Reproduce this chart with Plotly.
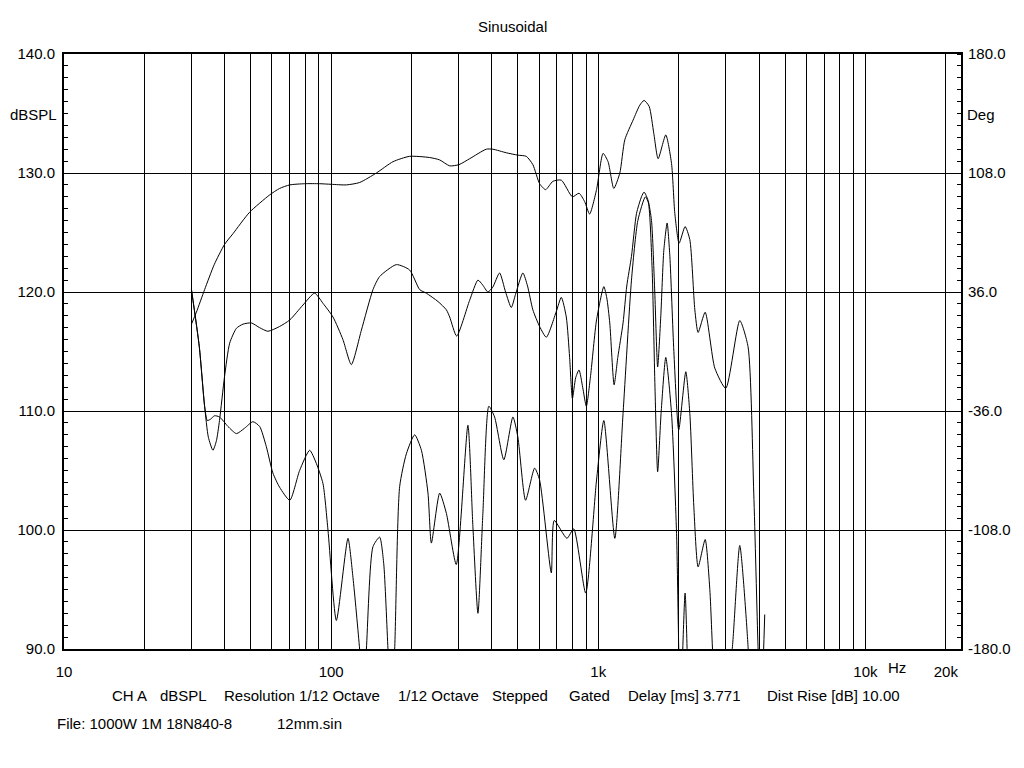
import plotly.graph_objects as go

# ---------------- data ----------------
freq_spl = [30.0, 31.3, 33.6, 36.5, 39.9, 42.9, 49.5, 58.8, 64.1, 70, 79.6, 90.5, 100, 114, 127.8,
            147.7, 170.4, 196.7, 233.8, 254.8, 277.8, 300.8, 329.9, 380.8, 403, 452.4, 500, 537.6,
            569, 603, 635, 676, 727, 800, 847, 889, 928, 985, 1042, 1088, 1143, 1204, 1257, 1350,
            1430, 1484, 1550, 1614, 1675, 1789, 1880, 1934, 2007, 2113, 2201, 2298, 2364, 2512,
            2730, 3000, 3385, 3636, 3819, 3962, 4055, 4198]
spl_db = [117.3, 118.3, 120.2, 122.3, 124.0, 124.9, 126.7, 128.15, 128.7, 129.0, 129.1, 129.1, 129.05,
          129.0, 129.2, 130.0, 130.95, 131.4, 131.3, 131.1, 130.6, 130.7, 131.2, 132.0, 132.0, 131.7,
          131.5, 131.4, 130.7, 129.1, 128.6, 129.3, 129.4, 128.0, 128.3, 127.6, 126.55, 128.6, 131.65,
          130.95, 128.7, 130.0, 132.8, 134.45, 135.7, 136.1, 135.6, 133.3, 131.2, 133.2, 130.8, 126.6,
          124.1, 125.5, 124.4, 118.5, 116.6, 118.3, 113.6, 111.9, 117.6, 115.4, 103.1, 90.2, 84.0, 92.9]

freq_h2 = [30, 32.1, 33.6, 34.7, 36.1, 37.2, 38.2, 39.9, 41.7, 44.2, 46.8, 50.3, 54.0, 58.0, 64.1, 70,
           78.4, 86.7, 93.2, 101.6, 110.7, 119, 129.8, 143.4, 151.9, 175.5, 196.7, 214.5, 227.2,
           251.2, 270, 277.8, 295, 329.9, 354.4, 368.9, 386.1, 402.6, 427, 449.7, 472.4, 490, 522,
           543.5, 569, 603, 639, 696, 727, 759, 781, 800, 823, 847, 874, 902, 936, 985, 1049, 1076,
           1104, 1146, 1183, 1238, 1278, 1331, 1390, 1451, 1484, 1536, 1582, 1627, 1668, 1714, 1759,
           1810, 1853, 1918, 2000, 2126, 2201, 2278, 2364, 2512, 2615, 2706, 2898, 3178, 3385, 3636,
           3750]
h2_db = [120.2, 115.4, 110.4, 107.8, 106.7, 107.5, 109.2, 112.9, 115.7, 116.95, 117.3, 117.4, 117.0,
         116.7, 117.1, 117.65, 118.9, 119.9, 119.05, 117.9, 116.0, 113.9, 116.8, 120.2, 121.3, 122.3,
         121.85, 120.2, 119.9, 119.2, 118.5, 117.9, 116.3, 119.3, 121.0, 120.6, 120.0, 120.4, 121.6,
         120.0, 118.7, 119.8, 121.6, 120.5, 118.5, 117.1, 116.2, 118.35, 119.55, 117.9, 114.5, 111.05,
         112.8, 113.45, 112.0, 110.4, 113.0, 117.65, 120.45, 119.5, 117.4, 112.2, 114.5, 117.4, 120.5,
         123.0, 126.6, 128.0, 128.4, 127.7, 126.0, 120.0, 113.7, 118.0, 123.5, 125.8, 123.0, 115.0,
         108.4, 113.3, 109.8, 102.0, 96.9, 99.2, 95.0, 88.0, 82.0, 90.2, 98.7, 90.2, 82.0]

freq_h3 = [30, 32.1, 33.6, 34.4, 35.3, 36.6, 38.2, 41.1, 44.2, 47.4, 50.95, 54.0, 57.2, 60.5, 64.1, 70,
           76.2, 83.1, 88.0, 93.2, 97.3, 104.6, 115.6, 120.7, 127.8, 131.8, 135.5, 143.4, 151.9, 157.3,
           163.2, 167.8, 172.9, 180.5, 191.2, 205.4, 217.7, 230.4, 237.2, 254.8, 270, 294, 325, 339.3,
           354.4, 369.8, 389.4, 409, 443, 479, 500, 534.3, 577.7, 603, 667, 684, 763, 809, 897, 985,
           1049, 1153, 1238, 1331, 1406, 1500, 1540, 1590, 1630, 1668, 1720, 1789, 1880, 1963, 2028,
           2113, 2182, 2250]
h3_db = [120.2, 115.4, 110.4, 109.2, 109.3, 109.6, 109.5, 108.7, 108.1, 108.55, 109.1, 108.7, 107.0,
         104.8, 103.6, 102.5, 105.0, 106.7, 105.6, 103.9, 100.0, 92.4, 99.3, 96.0, 90.0, 86.0, 90.0,
         98.6, 99.4, 97.2, 90.0, 85.0, 90.0, 103.65, 106.4, 108.0, 106.7, 103.1, 98.9, 103.1, 101.4,
         97.1, 108.8, 100.3, 93.0, 101.4, 110.4, 109.5, 105.9, 109.5, 107.8, 102.5, 105.2, 104.2, 96.4,
         100.8, 99.3, 100.1, 94.7, 104.2, 109.2, 99.3, 109.8, 121.0, 126.0, 128.0, 127.5, 122.0, 112.0,
         104.9, 110.0, 114.5, 109.8, 99.7, 85.0, 94.7, 85.0, 80.0]

grid_freqs = [10, 20, 30, 40, 50, 60, 70, 80, 90,
              100, 200, 300, 400, 500, 600, 700, 800, 900,
              1000, 2000, 3000, 4000, 5000, 6000, 7000, 8000, 9000,
              10000, 20000]
grid_labels = {10: "10", 100: "100", 1000: "1k", 10000: "10k", 20000: "20k"}

deg_ticks = [-180, -108, -36, 36, 108, 180]
deg_labels = ["-180.0", "-108.0", "-36.0", "36.0", "108.0", "180.0"]

title_text = "Sinusoidal"
footer_items = [("CH A", 110), ("dBSPL", 158), ("Resolution 1/12 Octave", 222), ("1/12 Octave", 396),
                ("Stepped", 490), ("Gated", 567), ("Delay [ms] 3.771", 626), ("Dist Rise [dB] 10.00", 765)]
file_items = [("File: 1000W 1M 18N840-8", 55), ("12mm.sin", 275)]

# ---------------- figure ----------------
FONT = "Liberation Sans, Arial, sans-serif"
# plot-area edges in screen pixels; the page body adds an 8 px offset
OFF = 8
W, H = 1024 - OFF, 768 - OFF
X0, X1, Y0, Y1 = 64, 961, 54, 649


def px(x):
    return (x - X0) / (X1 - X0)


def py(y):
    return (Y1 - y) / (Y1 - Y0)


fig = go.Figure()
line = dict(color="black", width=1, shape="spline", smoothing=0.6)
for f, v, name in [(freq_spl, spl_db, "SPL"), (freq_h2, h2_db, "H2"), (freq_h3, h3_db, "H3")]:
    fig.add_trace(go.Scatter(x=f, y=v, mode="lines", line=line, name=name, showlegend=False))
# right-hand axis carrier (no visible marks)
fig.add_trace(go.Scatter(x=[100], y=[0], yaxis="y2", mode="markers", marker=dict(opacity=0),
                         showlegend=False, hoverinfo="skip"))

fig.update_layout(
    width=W, height=H,
    margin=dict(l=X0 - OFF, r=W - (X1 - OFF), t=Y0 - OFF, b=H - (Y1 - OFF), autoexpand=False),
    paper_bgcolor="white", plot_bgcolor="white",
    font=dict(family=FONT, size=15, color="black"),
    xaxis=dict(type="log", range=[1, 4.3577], tickmode="array", tickvals=grid_freqs,
               ticktext=[grid_labels.get(g, "") for g in grid_freqs],
               showgrid=True, gridcolor="black", gridwidth=1, automargin=False,
               showline=True, linecolor="black", linewidth=2, mirror=True,
               ticks="", ticklabelstandoff=8, zeroline=False,
               tickfont=dict(family=FONT, size=15, color="black")),
    yaxis=dict(range=[90, 140], tickmode="linear", tick0=90, dtick=10, tickformat=".1f",
               showgrid=True, gridcolor="black", gridwidth=1, automargin=False,
               showline=True, linecolor="black", linewidth=2, zeroline=False,
               ticks="", ticklabelstandoff=4,
               minor=dict(dtick=1, tick0=90, ticks="inside", ticklen=4, tickcolor="black",
                          tickwidth=1, showgrid=False),
               tickfont=dict(family=FONT, size=15, color="black")),
    yaxis2=dict(range=[-180, 180], overlaying="y", side="right", tickmode="array",
                tickvals=deg_ticks, ticktext=deg_labels,
                showgrid=False, zeroline=False, automargin=False,
                showline=True, linecolor="black", linewidth=2, ticks="", ticklabelstandoff=2,
                minor=dict(tickmode="linear", dtick=7.2, tick0=-180, ticks="inside", ticklen=4,
                           tickcolor="black", tickwidth=1, showgrid=False),
                tickfont=dict(family=FONT, size=15, color="black")),
)

ann = []
ann.append(dict(text=title_text, x=px(512), y=py(27), xanchor="center", yanchor="middle"))
ann.append(dict(text="dBSPL", x=px(59), y=py(115), xanchor="right", yanchor="middle"))
ann.append(dict(text="Deg", x=px(965), y=py(115), xanchor="left", yanchor="middle"))
ann.append(dict(text="Hz", x=px(897), y=py(668), xanchor="center", yanchor="middle"))
for t, x in footer_items:
    ann.append(dict(text=t, x=px(x), y=py(695), xanchor="left", yanchor="middle"))
for t, x in file_items:
    ann.append(dict(text=t, x=px(x), y=py(723), xanchor="left", yanchor="middle"))
for a in ann:
    a.update(xref="paper", yref="paper", showarrow=False,
             font=dict(family=FONT, size=15, color="black"))
fig.update_layout(annotations=ann)

fig.write_html("out.html")
